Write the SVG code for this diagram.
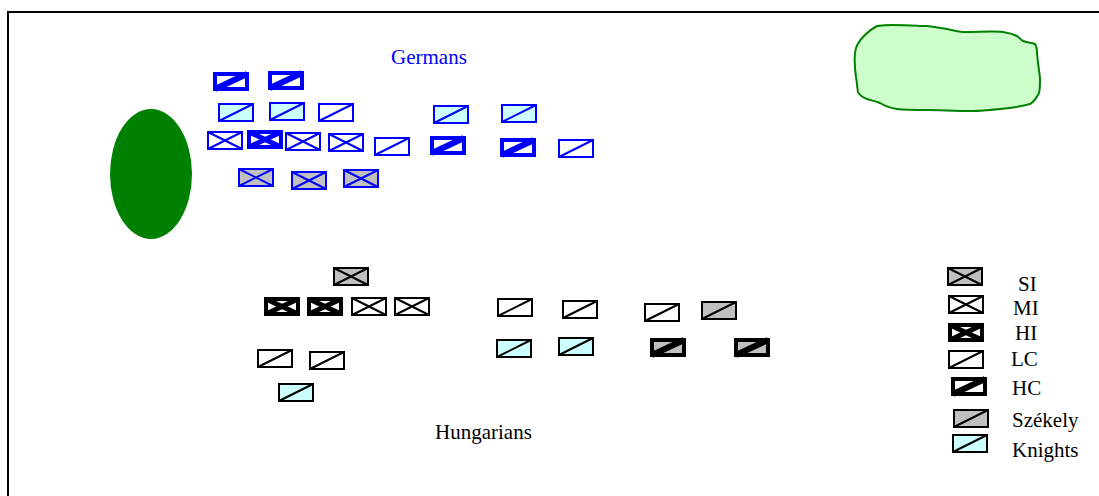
<svg xmlns="http://www.w3.org/2000/svg" xmlns:xlink="http://www.w3.org/1999/xlink" width="1099" height="496" viewBox="0 0 1099 496">
<style>
.g{stroke:#0000ff}
.b{stroke:#000000}
.w{fill:#ffffff}
.s{fill:#c0c0c0}
.k{fill:#ccffff}
.t{font-family:"Liberation Serif","Times New Roman",serif;font-size:21px}
</style>
<defs>
<g id="mi"><rect x="1" y="1" width="34" height="17" stroke-width="2"/><path d="M1,1 L35,18 M1,18 L35,1" stroke-width="2" fill="none"/></g>
<g id="hi"><rect x="2" y="2" width="32" height="15" stroke-width="4"/><path d="M2,2 L34,17 M2,17 L34,2" stroke-width="5" fill="none"/></g>
<g id="lc"><rect x="1" y="1" width="34" height="17" stroke-width="2"/><path d="M1,18 L35,1" stroke-width="2" fill="none"/></g>
<g id="hc"><rect x="2" y="2" width="32" height="15" stroke-width="4"/><path d="M2,17 L34,2" stroke-width="6" fill="none"/></g>
</defs>
<path d="M8,496 V12 H1099" fill="none" stroke="#000" stroke-width="2"/>
<g id="wood"><ellipse cx="151" cy="174" rx="41" ry="65" fill="#008000"/></g>
<g id="hill"><path d="M855,53 C856,43 862,38 865,35 C870,30 873,28 877,26 C885,25 890,25 893,25 C910,25 920,26 927,26 C945,28 955,31 963,32 C980,32 995,31 1003,32 C1010,33 1015,35 1017,36 C1020,38 1021,40 1023,41 C1028,43 1033,43 1035,44 C1037,47 1037,50 1037,53 C1038,65 1040,75 1040,80 C1040,86 1040,90 1039,93 C1036,99 1034,102 1030,104 C1020,107 1010,108 1000,109 C990,110 980,111 973,111 C955,111 940,110 927,110 C915,110 905,110 897,109 C890,108 885,106 880,103 C875,101 870,100 867,99 C862,97 859,95 858,92 C857,87 857,82 856,77 C855,70 854,62 855,53 Z" fill="#ccffcc" stroke="#008000" stroke-width="2"/></g>
<g id="label-germans"><text class="t" x="391" y="64" fill="#0000ff">Germans</text></g>
<g id="label-hungarians"><text class="t" x="435" y="439" fill="#000">Hungarians</text></g>
<g id="germans">
<g id="g-hc1"><use xlink:href="#hc" x="213" y="72" class="g w"/></g>
<g id="g-hc2"><use xlink:href="#hc" x="268" y="71" class="g w"/></g>
<g id="g-kn1"><use xlink:href="#lc" x="218" y="103" class="g k"/></g>
<g id="g-kn2"><use xlink:href="#lc" x="269" y="102" class="g k"/></g>
<g id="g-lc1"><use xlink:href="#lc" x="318" y="103" class="g w"/></g>
<g id="g-kn3"><use xlink:href="#lc" x="433" y="105" class="g k"/></g>
<g id="g-kn4"><use xlink:href="#lc" x="501" y="104" class="g k"/></g>
<g id="g-mi1"><use xlink:href="#mi" x="207" y="131" class="g w"/></g>
<g id="g-hi1"><use xlink:href="#hi" x="247" y="130" class="g w"/></g>
<g id="g-mi2"><use xlink:href="#mi" x="285" y="132" class="g w"/></g>
<g id="g-mi3"><use xlink:href="#mi" x="328" y="133" class="g w"/></g>
<g id="g-lc2"><use xlink:href="#lc" x="374" y="137" class="g w"/></g>
<g id="g-hc3"><use xlink:href="#hc" x="430" y="136" class="g w"/></g>
<g id="g-hc4"><use xlink:href="#hc" x="500" y="138" class="g w"/></g>
<g id="g-lc3"><use xlink:href="#lc" x="558" y="139" class="g w"/></g>
<g id="g-si1"><use xlink:href="#mi" x="238" y="168" class="g s"/></g>
<g id="g-si2"><use xlink:href="#mi" x="291" y="171" class="g s"/></g>
<g id="g-si3"><use xlink:href="#mi" x="343" y="169" class="g s"/></g>
</g>
<g id="hungarians">
<g id="h-si1"><use xlink:href="#mi" x="333" y="267" class="b s"/></g>
<g id="h-hi1"><use xlink:href="#hi" x="264" y="297" class="b w"/></g>
<g id="h-hi2"><use xlink:href="#hi" x="307" y="297" class="b w"/></g>
<g id="h-mi1"><use xlink:href="#mi" x="351" y="297" class="b w"/></g>
<g id="h-mi2"><use xlink:href="#mi" x="394" y="297" class="b w"/></g>
<g id="h-lc1"><use xlink:href="#lc" x="257" y="349" class="b w"/></g>
<g id="h-lc2"><use xlink:href="#lc" x="309" y="351" class="b w"/></g>
<g id="h-kn1"><use xlink:href="#lc" x="278" y="383" class="b k"/></g>
<g id="h-lc3"><use xlink:href="#lc" x="497" y="298" class="b w"/></g>
<g id="h-lc4"><use xlink:href="#lc" x="562" y="300" class="b w"/></g>
<g id="h-lc5"><use xlink:href="#lc" x="644" y="303" class="b w"/></g>
<g id="h-sz1"><use xlink:href="#lc" x="701" y="301" class="b s"/></g>
<g id="h-kn2"><use xlink:href="#lc" x="496" y="339" class="b k"/></g>
<g id="h-kn3"><use xlink:href="#lc" x="558" y="337" class="b k"/></g>
<g id="h-hc1"><use xlink:href="#hc" x="650" y="338" class="b s"/></g>
<g id="h-hc2"><use xlink:href="#hc" x="734" y="338" class="b s"/></g>
</g>
<g id="legend">
<g id="leg-si"><use xlink:href="#mi" x="947" y="267" class="b s"/><text class="t" x="1018" y="291" fill="#000">SI</text></g>
<g id="leg-mi"><use xlink:href="#mi" x="948" y="295" class="b w"/><text class="t" x="1013" y="315" fill="#000">MI</text></g>
<g id="leg-hi"><use xlink:href="#hi" x="948" y="323" class="b w"/><text class="t" x="1015" y="340" fill="#000">HI</text></g>
<g id="leg-lc"><use xlink:href="#lc" x="948" y="350" class="b w"/><text class="t" x="1011" y="366" fill="#000">LC</text></g>
<g id="leg-hc"><use xlink:href="#hc" x="951" y="377" class="b w"/><text class="t" x="1012" y="395" fill="#000">HC</text></g>
<g id="leg-sz"><use xlink:href="#lc" x="953" y="409" class="b s"/><text class="t" x="1012" y="427" fill="#000">Székely</text></g>
<g id="leg-kn"><use xlink:href="#lc" x="952" y="434" class="b k"/><text class="t" x="1012" y="457" fill="#000">Knights</text></g>
</g>
</svg>
